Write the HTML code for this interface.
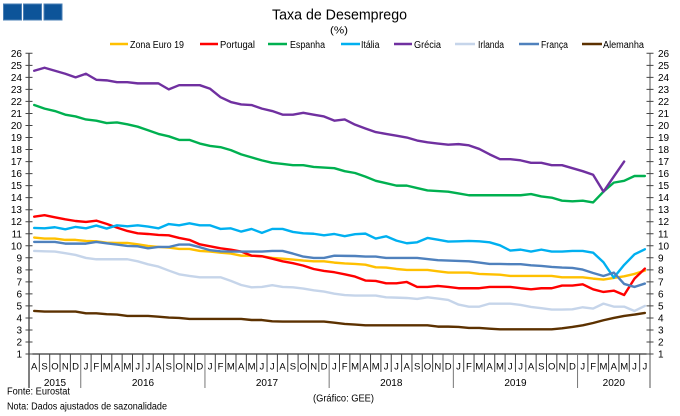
<!DOCTYPE html>
<html>
<head>
<meta charset="utf-8">
<style>
html,body{margin:0;padding:0;background:#fff;}
svg{display:block;font-family:"Liberation Sans",Arial,sans-serif;}
</style>
</head>
<body>
<svg width="680" height="416" viewBox="0 0 680 416" xmlns="http://www.w3.org/2000/svg">
<rect width="680" height="416" fill="#fff"/>
<!-- logo -->
<rect x="3.5" y="4" width="18" height="16" fill="#0d5499" stroke="#4a7fb5" stroke-width="1"/>
<rect x="23.5" y="4" width="18" height="16" fill="#0d5499" stroke="#4a7fb5" stroke-width="1"/>
<rect x="44" y="4" width="18" height="16" fill="#0d5499" stroke="#4a7fb5" stroke-width="1"/>

<!-- title -->
<text x="272" y="19.5" font-size="15" textLength="135" lengthAdjust="spacingAndGlyphs" fill="#000">Taxa de Desemprego</text>
<text x="330" y="33.5" font-size="10" textLength="18" lengthAdjust="spacingAndGlyphs" fill="#000">(%)</text>

<!-- legend -->
<g stroke-width="2.5" fill="none">
<line x1="110" y1="44" x2="128" y2="44" stroke="#FFC000"/>
<line x1="200" y1="44" x2="218" y2="44" stroke="#FF0000"/>
<line x1="268" y1="44" x2="287" y2="44" stroke="#00B050"/>
<line x1="341" y1="44" x2="360" y2="44" stroke="#00B0F0"/>
<line x1="394" y1="44" x2="412" y2="44" stroke="#7030A0"/>
<line x1="455" y1="44" x2="475" y2="44" stroke="#C6D5EA"/>
<line x1="519" y1="44" x2="539" y2="44" stroke="#4F81BD"/>
<line x1="582" y1="44" x2="602" y2="44" stroke="#5C3100"/>
</g>
<g font-size="10" fill="#000">
<text x="130" y="48" textLength="54" lengthAdjust="spacingAndGlyphs">Zona Euro 19</text>
<text x="220" y="48" textLength="35" lengthAdjust="spacingAndGlyphs">Portugal</text>
<text x="290" y="48" textLength="35" lengthAdjust="spacingAndGlyphs">Espanha</text>
<text x="361" y="48" textLength="18.5" lengthAdjust="spacingAndGlyphs">Itália</text>
<text x="414" y="48" textLength="27" lengthAdjust="spacingAndGlyphs">Grécia</text>
<text x="478" y="48" textLength="26" lengthAdjust="spacingAndGlyphs">Irlanda</text>
<text x="541" y="48" textLength="27" lengthAdjust="spacingAndGlyphs">França</text>
<text x="603" y="48" textLength="41" lengthAdjust="spacingAndGlyphs">Alemanha</text>
</g>

<!-- axes -->
<g stroke="#000" stroke-width="1" fill="none">
<line x1="29" y1="53" x2="29" y2="388"/>
<line x1="650" y1="53" x2="650" y2="388" stroke="#555"/>
<line x1="29" y1="354" x2="650" y2="354"/>
</g>
<!-- y ticks -->
<g transform="matrix(1 0 0 -12.03 0 366.08)" stroke="#444" fill="none">
<path vector-effect="non-scaling-stroke" stroke-width="1" d="M25.5 1H32.5M25.5 2H32.5M25.5 3H32.5M25.5 4H32.5M25.5 5H32.5M25.5 6H32.5M25.5 7H32.5M25.5 8H32.5M25.5 9H32.5M25.5 10H32.5M25.5 11H32.5M25.5 12H32.5M25.5 13H32.5M25.5 14H32.5M25.5 15H32.5M25.5 16H32.5M25.5 17H32.5M25.5 18H32.5M25.5 19H32.5M25.5 20H32.5M25.5 21H32.5M25.5 22H32.5M25.5 23H32.5M25.5 24H32.5M25.5 25H32.5M25.5 26H32.5"/>
<path vector-effect="non-scaling-stroke" stroke-width="1" d="M646.5 1H653.5M646.5 2H653.5M646.5 3H653.5M646.5 4H653.5M646.5 5H653.5M646.5 6H653.5M646.5 7H653.5M646.5 8H653.5M646.5 9H653.5M646.5 10H653.5M646.5 11H653.5M646.5 12H653.5M646.5 13H653.5M646.5 14H653.5M646.5 15H653.5M646.5 16H653.5M646.5 17H653.5M646.5 18H653.5M646.5 19H653.5M646.5 20H653.5M646.5 21H653.5M646.5 22H653.5M646.5 23H653.5M646.5 24H653.5M646.5 25H653.5M646.5 26H653.5"/>
</g>
<!-- y labels -->
<g font-size="10" fill="#000" text-anchor="end">
<text x="22" y="357.5">1</text><text x="22" y="345.5">2</text><text x="22" y="333.5">3</text><text x="22" y="321.5">4</text><text x="22" y="309.4">5</text><text x="22" y="297.4">6</text><text x="22" y="285.4">7</text><text x="22" y="273.3">8</text><text x="22" y="261.3">9</text><text x="22" y="249.3">10</text><text x="22" y="237.3">11</text><text x="22" y="225.2">12</text><text x="22" y="213.2">13</text><text x="22" y="201.2">14</text><text x="22" y="189.1">15</text><text x="22" y="177.1">16</text><text x="22" y="165.1">17</text><text x="22" y="153">18</text><text x="22" y="141">19</text><text x="22" y="129">20</text><text x="22" y="117">21</text><text x="22" y="104.9">22</text><text x="22" y="92.9">23</text><text x="22" y="80.9">24</text><text x="22" y="68.8">25</text><text x="22" y="56.8">26</text>
</g>
<g font-size="10" fill="#000" text-anchor="start">
<text x="658" y="357.5">1</text><text x="658" y="345.5">2</text><text x="658" y="333.5">3</text><text x="658" y="321.5">4</text><text x="658" y="309.4">5</text><text x="658" y="297.4">6</text><text x="658" y="285.4">7</text><text x="658" y="273.3">8</text><text x="658" y="261.3">9</text><text x="658" y="249.3">10</text><text x="658" y="237.3">11</text><text x="658" y="225.2">12</text><text x="658" y="213.2">13</text><text x="658" y="201.2">14</text><text x="658" y="189.1">15</text><text x="658" y="177.1">16</text><text x="658" y="165.1">17</text><text x="658" y="153">18</text><text x="658" y="141">19</text><text x="658" y="129">20</text><text x="658" y="117">21</text><text x="658" y="104.9">22</text><text x="658" y="92.9">23</text><text x="658" y="80.9">24</text><text x="658" y="68.8">25</text><text x="658" y="56.8">26</text>
</g>

<!-- category separators -->
<g transform="matrix(10.35 0 0 1 29 354)" fill="none">
<path vector-effect="non-scaling-stroke" stroke="#444" stroke-width="1" d="M1 0V18M2 0V18M3 0V18M4 0V18M6 0V18M7 0V18M8 0V18M9 0V18M10 0V18M11 0V18M12 0V18M13 0V18M14 0V18M15 0V18M16 0V18M18 0V18M19 0V18M20 0V18M21 0V18M22 0V18M23 0V18M24 0V18M25 0V18M26 0V18M27 0V18M28 0V18M30 0V18M31 0V18M32 0V18M33 0V18M34 0V18M35 0V18M36 0V18M37 0V18M38 0V18M39 0V18M40 0V18M42 0V18M43 0V18M44 0V18M45 0V18M46 0V18M47 0V18M48 0V18M49 0V18M50 0V18M51 0V18M52 0V18M54 0V18M55 0V18M56 0V18M57 0V18M58 0V18M59 0V18"/>
<path vector-effect="non-scaling-stroke" stroke="#777" stroke-width="1" d="M5 0V34M17 0V34M29 0V34M41 0V34M53 0V34"/>
</g>
<!-- month labels -->
<text font-size="9.5" fill="#000" text-anchor="middle" y="369.5" x="34.2 44.55 54.9 65.25 75.6 85.95 96.3 106.65 117 127.35 137.7 148.05 158.4 168.75 179.1 189.45 199.8 210.15 220.5 230.85 241.2 251.55 261.9 272.25 282.6 292.95 303.3 313.65 324 334.35 344.7 355.05 365.4 375.75 386.1 396.45 406.8 417.15 427.5 437.85 448.2 458.55 468.9 479.25 489.6 499.95 510.3 520.65 531 541.35 551.7 562.05 572.4 582.75 593.1 603.45 613.8 624.15 634.5 644.85">ASONDJFMAMJJASONDJFMAMJJASONDJFMAMJJASONDJFMAMJJASONDJFMAMJJ</text>
<!-- year labels -->
<g font-size="10" fill="#000" text-anchor="middle">
<text x="55" y="386">2015</text>
<text x="143" y="386">2016</text>
<text x="267" y="386">2017</text>
<text x="391.3" y="386">2018</text>
<text x="515.5" y="386">2019</text>
<text x="613.8" y="386">2020</text>
</g>

<!-- series -->
<g transform="matrix(10.35 0 0 -12.03 34.2 366.08)" fill="none" stroke-linejoin="round" stroke-linecap="round">
<polyline vector-effect="non-scaling-stroke" stroke="#FFC000" stroke-width="2.4" points="0,10.68 1,10.6 2,10.6 3,10.49 4,10.49 5,10.4 6,10.37 7,10.26 8,10.24 9,10.24 10,10.12 11,9.99 12,9.9 13,9.85 14,9.74 15,9.74 16,9.57 17,9.52 18,9.43 19,9.35 20,9.18 21,9.18 22,9.13 23,8.99 24,8.93 25,8.85 26,8.77 27,8.71 28,8.71 29,8.6 30,8.53 31,8.49 32,8.43 33,8.21 34,8.19 35,8.07 36,7.99 37,7.99 38,7.99 39,7.88 40,7.77 41,7.77 42,7.77 43,7.66 44,7.63 45,7.6 46,7.49 47,7.49 48,7.49 49,7.49 50,7.49 51,7.38 52,7.38 53,7.38 54,7.27 55,7.19 56,7.33 57,7.46 58,7.66 59,7.94"/>
<polyline vector-effect="non-scaling-stroke" stroke="#FF0000" stroke-width="2.4" points="0,12.42 1,12.54 2,12.37 3,12.2 4,12.06 5,11.98 6,12.09 7,11.82 8,11.51 9,11.23 10,11.04 11,10.98 12,10.9 13,10.87 14,10.65 15,10.49 16,10.12 17,9.96 18,9.79 19,9.68 20,9.52 21,9.18 22,9.13 23,8.93 24,8.71 25,8.55 26,8.35 27,8.07 28,7.91 29,7.8 30,7.63 31,7.44 32,7.11 33,7.08 34,6.88 35,6.88 36,6.99 37,6.58 38,6.58 39,6.66 40,6.58 41,6.47 42,6.47 43,6.47 44,6.58 45,6.58 46,6.58 47,6.47 48,6.38 49,6.47 50,6.47 51,6.69 52,6.69 53,6.8 54,6.38 55,6.16 56,6.27 57,5.91 58,7.27 59,8.1"/>
<polyline vector-effect="non-scaling-stroke" stroke="#00B050" stroke-width="2.4" points="0,21.7 1,21.4 2,21.2 3,20.9 4,20.75 5,20.5 6,20.4 7,20.2 8,20.25 9,20.1 10,19.9 11,19.6 12,19.3 13,19.1 14,18.8 15,18.8 16,18.5 17,18.3 18,18.2 19,17.95 20,17.6 21,17.35 22,17.1 23,16.9 24,16.8 25,16.7 26,16.7 27,16.55 28,16.5 29,16.45 30,16.2 31,16.05 32,15.75 33,15.4 34,15.2 35,15 36,15 37,14.8 38,14.6 39,14.55 40,14.5 41,14.35 42,14.2 43,14.2 44,14.2 45,14.2 46,14.2 47,14.2 48,14.3 49,14.1 50,14 51,13.75 52,13.7 53,13.75 54,13.6 55,14.5 56,15.25 57,15.4 58,15.8 59,15.8"/>
<polyline vector-effect="non-scaling-stroke" stroke="#00B0F0" stroke-width="2.4" points="0,11.48 1,11.45 2,11.54 3,11.37 4,11.57 5,11.45 6,11.68 7,11.43 8,11.7 9,11.62 10,11.7 11,11.6 12,11.45 13,11.81 14,11.7 15,11.87 16,11.7 17,11.7 18,11.4 19,11.45 20,11.18 21,11.4 22,11.07 23,11.4 24,11.4 25,11.15 26,11.04 27,11 28,10.87 29,10.98 30,10.8 31,10.96 32,11.01 33,10.6 34,10.79 35,10.43 36,10.21 37,10.29 38,10.65 39,10.51 40,10.35 41,10.37 42,10.4 43,10.37 44,10.29 45,10.04 46,9.6 47,9.68 48,9.52 49,9.68 50,9.52 51,9.52 52,9.57 53,9.57 54,9.43 55,8.63 56,7.35 57,8.41 58,9.29 59,9.71"/>
<polyline vector-effect="non-scaling-stroke" stroke="#7030A0" stroke-width="2.4" points="0,24.55 1,24.8 2,24.55 3,24.3 4,24 5,24.3 6,23.8 7,23.75 8,23.6 9,23.6 10,23.5 11,23.5 12,23.5 13,23 14,23.35 15,23.35 16,23.35 17,23.05 18,22.35 19,21.95 20,21.75 21,21.7 22,21.4 23,21.2 24,20.9 25,20.9 26,21.05 27,20.9 28,20.75 29,20.4 30,20.5 31,20.07 32,19.75 33,19.45 34,19.3 35,19.15 36,19 37,18.75 38,18.6 39,18.5 40,18.4 41,18.45 42,18.35 43,18.05 44,17.6 45,17.2 46,17.2 47,17.1 48,16.9 49,16.9 50,16.7 51,16.7 52,16.45 53,16.2 54,15.9 55,14.5 56,15.75 57,17"/>
<polyline vector-effect="non-scaling-stroke" stroke="#C6D5EA" stroke-width="2.4" points="0,9.57 1,9.54 2,9.52 3,9.38 4,9.24 5,8.99 6,8.88 7,8.88 8,8.88 9,8.88 10,8.71 11,8.46 12,8.27 13,7.94 14,7.63 15,7.49 16,7.38 17,7.38 18,7.38 19,7.08 20,6.74 21,6.55 22,6.58 23,6.72 24,6.58 25,6.55 26,6.44 27,6.3 28,6.19 29,6.02 30,5.9 31,5.86 32,5.86 33,5.86 34,5.72 35,5.69 36,5.66 37,5.58 38,5.72 39,5.61 40,5.5 41,5.11 42,4.94 43,4.94 44,5.19 45,5.19 46,5.19 47,5.08 48,4.92 49,4.81 50,4.7 51,4.7 52,4.72 53,4.89 54,4.78 55,5.19 56,4.94 57,4.94 58,4.58 59,5"/>
<polyline vector-effect="non-scaling-stroke" stroke="#4F81BD" stroke-width="2.4" points="0,10.32 1,10.32 2,10.32 3,10.18 4,10.18 5,10.18 6,10.32 7,10.21 8,10.1 9,9.99 10,9.96 11,9.79 12,9.9 13,9.9 14,10.1 15,10.1 16,9.88 17,9.63 18,9.54 19,9.52 20,9.52 21,9.52 22,9.52 23,9.57 24,9.57 25,9.35 26,9.1 27,8.99 28,8.99 29,9.18 30,9.16 31,9.15 32,9.1 33,9.1 34,8.99 35,8.99 36,8.99 37,8.99 38,8.9 39,8.8 40,8.77 41,8.74 42,8.71 43,8.6 44,8.49 45,8.49 46,8.47 47,8.47 48,8.38 49,8.32 50,8.24 51,8.19 52,8.16 53,8.02 54,7.74 55,7.49 56,7.77 57,6.83 58,6.58 59,6.86"/>
<polyline vector-effect="non-scaling-stroke" stroke="#5C3100" stroke-width="2.4" points="0,4.58 1,4.53 2,4.53 3,4.53 4,4.53 5,4.39 6,4.39 7,4.31 8,4.28 9,4.17 10,4.17 11,4.17 12,4.11 13,4.03 14,4 15,3.92 16,3.92 17,3.92 18,3.92 19,3.92 20,3.92 21,3.83 22,3.83 23,3.72 24,3.7 25,3.7 26,3.7 27,3.7 28,3.7 29,3.61 30,3.5 31,3.45 32,3.39 33,3.39 34,3.39 35,3.39 36,3.39 37,3.39 38,3.39 39,3.28 40,3.28 41,3.25 42,3.17 43,3.17 44,3.11 45,3.06 46,3.06 47,3.06 48,3.06 49,3.06 50,3.06 51,3.14 52,3.25 53,3.39 54,3.58 55,3.81 56,4 57,4.17 58,4.28 59,4.42"/>
</g>

<!-- footer -->
<g font-size="10" fill="#000">
<text x="7" y="394.5" textLength="63" lengthAdjust="spacingAndGlyphs">Fonte:  Eurostat</text>
<text x="7" y="409.5" textLength="160" lengthAdjust="spacingAndGlyphs">Nota: Dados ajustados de sazonalidade</text>
<text x="313" y="401.5" textLength="61" lengthAdjust="spacingAndGlyphs">(Gráfico:  GEE)</text>
</g>
</svg>
</body>
</html>
